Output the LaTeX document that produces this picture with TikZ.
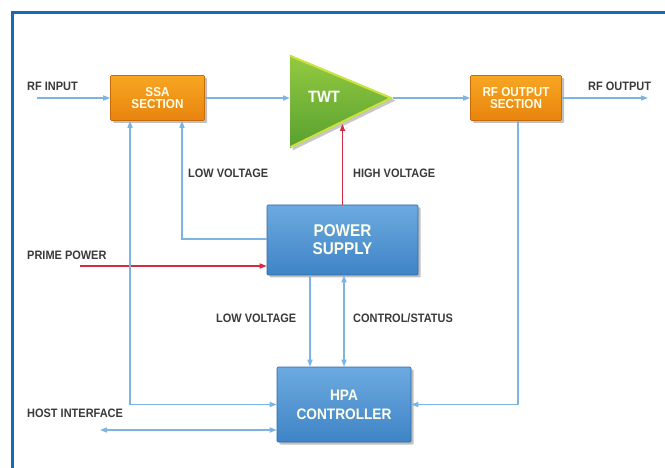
\documentclass[tikz,border=0pt]{standalone}
\usepackage{fontspec}
\setmainfont{Liberation Sans}[FakeStretch=0.9]
\usetikzlibrary{arrows.meta,shadows}

\definecolor{framecol}{HTML}{1868BE}
\definecolor{wire}{HTML}{7DB5E2}
\definecolor{hot}{HTML}{D42A42}
\definecolor{labelgray}{HTML}{3A3A3A}
\definecolor{orangetop}{HTML}{F8A622}
\definecolor{orangebot}{HTML}{E8840E}
\definecolor{orangeedge}{HTML}{C8690A}
\definecolor{bluetop}{HTML}{6DAAE0}
\definecolor{bluebot}{HTML}{3E84C6}
\definecolor{blueedge}{HTML}{2F6AA6}
\definecolor{greendark}{HTML}{58A030}
\definecolor{greenlight}{HTML}{94CA40}
\definecolor{greenrim}{HTML}{CDE23C}

\tikzset{
  tip/.style={-{Triangle[length=7pt,width=5pt]}},
  bothtips/.style={{Triangle[length=7pt,width=5pt]}-{Triangle[length=7pt,width=5pt]}},
  bl/.style={draw=wire, line width=1.4pt},
  rd/.style={draw=hot, line width=1.4pt},
  lbl/.style={anchor=west, inner sep=0pt, text=labelgray,
    font=\fontsize{12.2}{13}\selectfont\bfseries},
  boxbase/.style={rectangle, rounded corners=1pt, text=white!92!yellow, align=center,
    drop shadow={shadow xshift=2.5pt, shadow yshift=-2.5pt, opacity=0.35, fill=black!70}},
  orangebox/.style={boxbase, top color=orangetop, bottom color=orangebot,
    draw=orangeedge, line width=0.6pt,
    font=\fontsize{13}{12.5}\selectfont\bfseries},
  bluebox/.style={boxbase, top color=bluetop, bottom color=bluebot,
    draw=blueedge, line width=0.6pt},
}

\begin{document}
\begin{tikzpicture}[x=1pt,y=-1pt]
\useasboundingbox (0,0) rectangle (665,468);
\clip (0,0) rectangle (665,468);
\fill[white] (0,0) rectangle (665,468);

% outer frame (open towards right and bottom)
\draw[framecol, line width=3pt] (12.5,480) -- (12.5,12.5) -- (680,12.5);

% blocks
\node[orangebox, minimum width=94pt, minimum height=45pt] (ssa) at (157.5,98) {SSA\\SECTION};
\node[orangebox, minimum width=91pt, minimum height=45pt] (rfout) at (516,98) {RF OUTPUT\\SECTION};
\node[bluebox, minimum width=151pt, minimum height=70pt,
      font=\fontsize{17}{18}\selectfont\bfseries] (ps) at (342.5,240) {POWER\\SUPPLY};
\node[bluebox, minimum width=134pt, minimum height=75pt,
      font=\fontsize{15.2}{19}\selectfont\bfseries] (hpa) at (344,404.5) {HPA\\CONTROLLER};

% TWT amplifier triangle
\fill[black, opacity=0.22] (292.5,57.5) -- (395.5,100.5) -- (292.5,150.5) -- cycle;
\shade[top color=greenlight, bottom color=greendark] (290,55) -- (393,98) -- (290,148) -- cycle;
\draw[greenrim, line width=2pt, line join=round] (290.5,56) -- (391,98) -- (290.5,147);
\node[text=white, font=\fontsize{16.4}{18}\selectfont\bfseries] (twt) at (324,97) {TWT};
\coordinate (twtin) at (290,98);
\coordinate (twtout) at (393,98);
\coordinate (twtlow) at (342.5,124);

% free ends
\coordinate (rfin) at (37,98);
\coordinate (rfo) at (648,98);
\coordinate (prime) at (80,266);
\coordinate (host) at (100,430);

% RF chain
\draw[bl,tip] (rfin) -- (ssa.west);
\draw[bl,tip] (ssa.east) -- (twtin);
\draw[bl,tip] (twtout) -- (rfout.west);
\draw[bl,tip] (rfout.east) -- (rfo);

% power distribution
\draw[bl,tip] ([yshift=1pt]ps.west) -| ([xshift=24.5pt]ssa.south);
\draw[rd,tip] (ps.north) -- (twtlow);
\draw[rd,tip] (prime) -- (prime -| ps.west);
\draw[bl,tip] ([xshift=-32.5pt]ps.south) -- ([xshift=-32.5pt]ps.south |- hpa.north);
\draw[bl,bothtips] ([xshift=1.5pt]ps.south) -- ([xshift=1.5pt]ps.south |- hpa.north);

% controller links
\draw[bl,bothtips] ([xshift=-27.5pt]ssa.south) |- (hpa.west);
\draw[bl,tip] ([xshift=2pt]rfout.south) |- (hpa.east);
\draw[bl,bothtips] (host) -- (host -| hpa.west);

% labels
\node[lbl] (l1) at (27,86) {RF INPUT};
\node[lbl] (l2) at (588,86) {RF OUTPUT};
\node[lbl] (l3) at (188,173) {LOW VOLTAGE};
\node[lbl] (l4) at (353,173) {HIGH VOLTAGE};
\node[lbl] (l5) at (27,255) {PRIME POWER};
\node[lbl] (l6) at (216,318) {LOW VOLTAGE};
\node[lbl] (l7) at (353,318) {CONTROL/STATUS};
\node[lbl] (l8) at (27,413) {HOST INTERFACE};
\end{tikzpicture}
\end{document}
